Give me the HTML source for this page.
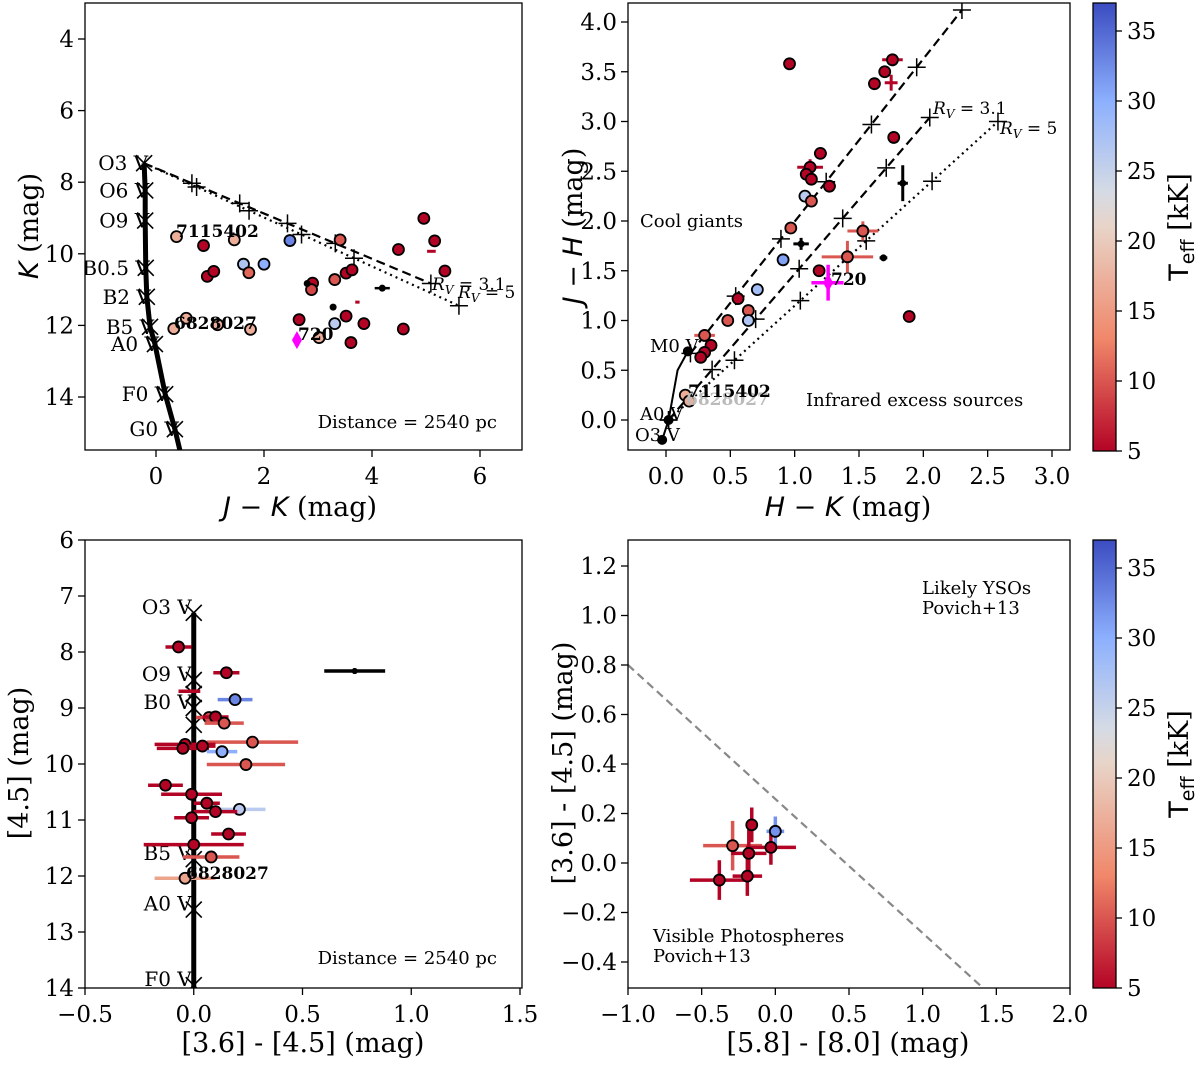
<!DOCTYPE html>
<html><head><meta charset="utf-8">
<style>
html,body{margin:0;padding:0;background:#fff;}
svg{display:block;font-family:"DejaVu Serif","Liberation Serif",serif;}
</style></head>
<body>
<svg id="fig" width="1200" height="1066" viewBox="0 0 1200 1066" xmlns="http://www.w3.org/2000/svg">
<defs>
<linearGradient id="cmap" x1="0" y1="1" x2="0" y2="0">
<stop offset="0" stop-color="#b40426"/><stop offset="0.25" stop-color="#f0876a"/>
<stop offset="0.5" stop-color="#e8d4c8"/><stop offset="0.58" stop-color="#d5dbe5"/>
<stop offset="0.78" stop-color="#8db0fe"/><stop offset="1" stop-color="#3b4cc0"/>
</linearGradient>
</defs>
</svg>
<script>
// ---------- Panel 1: K vs J-K ----------
const p1JK = [0.38,0.88,1.45,2.48,3.41,4.96,5.16,4.49,0.95,1.07,1.62,1.72,2.0,3.52,3.63,5.35,2.90,2.88,3.31,3.52,3.85,4.58,3.31,3.61,2.65,0.33,0.56,1.14,1.75,3.02];
const p1K  = [9.52,9.77,9.61,9.63,9.61,9.01,9.64,9.88,10.63,10.49,10.29,10.53,10.29,10.54,10.45,10.48,10.82,11.0,10.72,11.74,11.95,12.1,11.95,12.48,11.84,12.09,11.8,11.98,12.11,12.34];
const p1T  = [17,5,17,33,10,5,5,5,5,5,27,11,30,5,5,5,5,9,10,5,5,5,26,5,5,17,17,17,17,17];
const p1SmallJK = [2.80,4.19,3.28];
const p1SmallK = [10.83,10.96,11.49];
const p1MSname = ["O3 V","O6 V","O9 V","B0.5 V","B2 V","B5 V","A0 V","F0 V","G0 V"];
const p1MSJK = [-0.22,-0.20,-0.20,-0.19,-0.17,-0.11,-0.02,0.17,0.35];
const p1MSK = [7.47,8.23,9.07,10.39,11.20,12.04,12.52,13.92,14.90];
const p1XTicks = [0,2,4,6];
const p1YTicks = [4,6,8,10,12,14];

// ---------- Panel 2: J-H vs H-K ----------
const p2HK = [0.96,1.76,1.70,1.62,1.77,1.20,1.12,1.09,1.13,1.27,1.08,1.13,0.97,1.53,1.41,0.91,1.19,0.71,0.56,0.64,0.48,0.64,1.89,0.30,0.35,0.30,0.27,0.15,0.18];
const p2JH = [3.58,3.62,3.50,3.38,2.84,2.68,2.54,2.47,2.42,2.35,2.25,2.20,1.93,1.90,1.64,1.61,1.50,1.31,1.22,1.10,1.00,1.00,1.04,0.85,0.75,0.68,0.63,0.25,0.19];
const p2T  = [5,5,5,5,5,5,5,5,5,5,26,10,10,10,10,31,5,28,5,10,10,27,5,10,5,5,5,17,17];
const p2Err = [0,0.08,0.04,0,0.03,0.05,0.1,0,0,0.05,0.05,0,0,0.12,0.2,0,0,0,0,0,0,0,0,0.08,0,0,0,0,0];
const p2BlackHK = [1.05,1.69,1.84];
const p2BlackJH = [1.77,1.63,2.38];
const p2MSname = ["O3 V","A0 V","M0 V"];
const p2MSHK = [-0.03,0.02,0.17];
const p2MSJH = [-0.2,0.0,0.69];
const p2XTicks = [0.0,0.5,1.0,1.5,2.0,2.5,3.0];
const p2YTicks = [0.0,0.5,1.0,1.5,2.0,2.5,3.0,3.5,4.0];

// ---------- Panel 3: [4.5] vs [3.6]-[4.5] ----------
const p3C = [-0.07,0.15,0.19,0.07,0.10,0.14,0.27,-0.04,-0.05,0.04,0.13,0.24,-0.13,-0.01,0.06,0.21,0.10,-0.01,0.16,0.0,0.08,-0.04];
const p3M = [7.91,8.37,8.85,9.17,9.16,9.27,9.61,9.65,9.72,9.68,9.78,10.01,10.38,10.54,10.70,10.81,10.85,10.96,11.25,11.44,11.66,12.04];
const p3T = [5,5,33,9,5,10,10,5,5,5,30,10,5,5,5,26,5,5,5,5,10,16];
const p3Xerr = [0.06,0.06,0.08,0.06,0.06,0.09,0.21,0.14,0.12,0.06,0.07,0.18,0.08,0.14,0.06,0.12,0.1,0.08,0.08,0.23,0.13,0.14];
const p3MSname = ["O3 V","O9 V","","B0 V","","B5 V","A0 V","F0 V"];
const p3MSM = [7.3,8.5,8.75,9.0,9.3,11.7,12.6,13.95];
const p3XTicks = [-0.5,0.0,0.5,1.0,1.5];
const p3YTicks = [6,7,8,9,10,11,12,13,14];

// ---------- Panel 4: [3.6]-[4.5] vs [5.8]-[8.0] ----------
const p4X = [-0.16,0.0,-0.29,-0.03,-0.18,-0.19,-0.38];
const p4Y = [0.154,0.128,0.07,0.063,0.039,-0.053,-0.069];
const p4T = [5,32,10,5,5,5,5];
const p4Xerr = [0.04,0.06,0.2,0.17,0.12,0.1,0.2];
const p4Yerr = [0.07,0.06,0.1,0.07,0.1,0.08,0.08];
const p4XTicks = [-1.0,-0.5,0.0,0.5,1.0,1.5,2.0];
const p4YTicks = [-0.4,-0.2,0.0,0.2,0.4,0.6,0.8,1.0,1.2];
const cbTicks = [5,10,15,20,25,30,35];

const NS="http://www.w3.org/2000/svg";
const svg=document.getElementById('fig');
function mk(tag,attrs,parent){const e=document.createElementNS(NS,tag);for(const k in attrs)e.setAttribute(k,attrs[k]);(parent||svg).appendChild(e);return e;}
function lerp(a,b,t){return a+(b-a)*t;}
const stops=[[0,[180,4,38]],[0.25,[240,135,106]],[0.5,[232,212,200]],[0.58,[213,219,229]],[0.78,[141,176,254]],[1,[59,76,192]]];
function cmap(T){let t=(T-5)/32;t=Math.max(0,Math.min(1,t));for(let i=1;i<stops.length;i++){if(t<=stops[i][0]){const a=stops[i-1],b=stops[i];const u=(t-a[0])/(b[0]-a[0]);return `rgb(${Math.round(lerp(a[1][0],b[1][0],u))},${Math.round(lerp(a[1][1],b[1][1],u))},${Math.round(lerp(a[1][2],b[1][2],u))})`;}}return 'rgb(59,76,192)';}
function scale(d0,d1,r0,r1){return v=>r0+(v-d0)/(d1-d0)*(r1-r0);}
function text(x,y,s,opts,parent){const t=mk('text',Object.assign({x:x,y:y,'font-size':20,fill:'#000'},opts||{}),parent);t.textContent=s;return t;}

function axes(name,L,T,R,B,sx,sy,xt,yt,fmtx,fmty){
  const g=mk('g',{});
  
  
  xt.forEach(v=>{const x=sx(v);const l=mk('line',{x1:x,x2:x,y1:B,y2:B+7,stroke:'#000','stroke-width':1.3},g);
    
    
    const t=text(x,B+34,fmtx(v),{'text-anchor':'middle','font-size':23},g);
    
    });
  yt.forEach(v=>{const y=sy(v);const l=mk('line',{x1:L-7,x2:L,y1:y,y2:y,stroke:'#000','stroke-width':1.3},g);
    
    
    const t=text(L-11,y+8,fmty(v),{'text-anchor':'end','font-size':23},g);
    
    });
  return g;
}
function frame(name,L,T,R,B){const r=mk('rect',{x:L,y:T,width:R-L,height:B-T,fill:'none',stroke:'#000','stroke-width':1.3});
  
  }
function clip(id,L,T,R,B){const c=mk('clipPath',{id:id});mk('rect',{x:L,y:T,width:R-L,height:B-T},c);}
function xmark(x,y,s,g,w){mk('path',{d:`M${x-s},${y-s}L${x+s},${y+s}M${x-s},${y+s}L${x+s},${y-s}`,stroke:'#000','stroke-width':w||1.5,fill:'none'},g);}
function plus(x,y,s,g){mk('path',{d:`M${x-s},${y}L${x+s},${y}M${x},${y-s}L${x},${y+s}`,stroke:'#000','stroke-width':1.5,fill:'none'},g);}
const f1=v=>String(v), f2=v=>v.toFixed(1).replace('-','\u2212');

// ================= PANEL 1 =================
(function(){
const L=85,T=3,R=522,B=450;
const sx=scale(0,6,156,480), sy=scale(4,14,39,397);
clip('c1',L,T,R,B);
const g=mk('g',{'clip-path':'url(#c1)'});


let d='';p1MSJK.forEach((v,i)=>{d+=(i?'L':'M')+sx(v)+','+sy(p1MSK[i]);});d+='L'+sx(0.46)+','+sy(15.6);
const ms=mk('path',{d:d,stroke:'#000','stroke-width':5,fill:'none'},g);


p1MSJK.forEach((v,i)=>xmark(sx(v),sy(p1MSK[i]),8,g,1.6));
const o=[p1MSJK[0],p1MSK[0]];
const e31=[5.09,10.83], e5=[5.61,11.45];
const fr=[0,1/6,2/6,3/6,4/6,1];
const l31=mk('line',{x1:sx(o[0]),y1:sy(o[1]),x2:sx(e31[0]),y2:sy(e31[1]),stroke:'#000','stroke-width':2.2,'stroke-dasharray':'9,5'},g);


const l5=mk('line',{x1:sx(o[0]),y1:sy(o[1]),x2:sx(e5[0]),y2:sy(e5[1]),stroke:'#000','stroke-width':2.2,'stroke-dasharray':'2,4'},g);


fr.slice(1).forEach(f=>{plus(sx(lerp(o[0],e31[0],f)),sy(lerp(o[1],e31[1],f)),9,g);plus(sx(lerp(o[0],e5[0],f)),sy(lerp(o[1],e5[1],f)),9,g);});
const eb1=mk('line',{x1:sx(5.02),x2:sx(5.18),y1:sy(9.93),y2:sy(9.93),stroke:'#b40426','stroke-width':3},g);


const eb2=mk('line',{x1:sx(3.69),x2:sx(3.77),y1:sy(11.35),y2:sy(11.35),stroke:'#b40426','stroke-width':3},g);


const eb3=mk('line',{x1:sx(4.05),x2:sx(4.33),y1:sy(10.96),y2:sy(10.96),stroke:'#000','stroke-width':2.5},g);


p1JK.forEach((v,i)=>{const c=mk('circle',{cx:sx(v),cy:sy(p1K[i]),r:5.5,fill:cmap(p1T[i]),stroke:'#000','stroke-width':1.8},g);
  
  });
p1SmallJK.forEach((v,i)=>{const c=mk('circle',{cx:sx(v),cy:sy(p1SmallK[i]),r:3.5,fill:'#000'},g);
  
  });
const dm=mk('path',{d:`M${sx(2.61)},${sy(12.41)-9}l5,9l-5,9l-5,-9z`,fill:'#ff00ff'},g);


p1MSname.forEach((n,i)=>{const t=text(sx(p1MSJK[i])+4,sy(p1MSK[i])+7,n,{'text-anchor':'end','font-size':20},g);
  
  });
const a=text(176,237,'7115402',{'font-size':17,'font-weight':'bold'},g);
const b=text(174,329,'6828027',{'font-size':17,'font-weight':'bold'},g);
const c=text(298,340,'720',{'font-size':17,'font-weight':'bold'},g);
const r1=text(432,290,'',{'font-size':17},g);r1.innerHTML='<tspan font-style="italic">R</tspan><tspan font-size="12" dy="4" font-style="italic">V</tspan><tspan dy="-4"> = 3.1</tspan>';
const r2=text(458,298,'',{'font-size':17},g);r2.innerHTML='<tspan font-style="italic">R</tspan><tspan font-size="12" dy="4" font-style="italic">V</tspan><tspan dy="-4"> = 5</tspan>';
const dist=text(497,428,'Distance = 2540 pc',{'font-size':18,'text-anchor':'end'},g);
frame('panel-jk-k-frame',L,T,R,B);
axes('panel-jk-k-axes',L,T,R,B,sx,sy,p1XTicks,p1YTicks,f1,f1);
const xl=text(300,516,'',{'font-size':27,'text-anchor':'middle'});xl.innerHTML='<tspan font-style="italic" font-family="DejaVu Sans">J</tspan> \u2212 <tspan font-style="italic" font-family="DejaVu Sans">K</tspan> (mag)';

const yl=text(0,0,'',{'font-size':27,'text-anchor':'middle',transform:'translate(38,226) rotate(-90)'});yl.innerHTML='<tspan font-style="italic" font-family="DejaVu Sans">K</tspan> (mag)';

})();

// ================= PANEL 2 =================
(function(){
const L=628,T=3,R=1070,B=450;
const sx=scale(0,3,666,1052), sy=scale(0,4,420,22);
clip('c2',L,T,R,B);
const g=mk('g',{'clip-path':'url(#c2)'});


const cp=mk('path',{d:`M${sx(p2MSHK[0])},${sy(p2MSJH[0])}L${sx(p2MSHK[1])},${sy(p2MSJH[1])}L${sx(0.09)},${sy(0.5)}L${sx(p2MSHK[2])},${sy(p2MSJH[2])}`,stroke:'#000','stroke-width':2,fill:'none'},g);


p2MSHK.forEach((v,i)=>mk('circle',{cx:sx(v),cy:sy(p2MSJH[i]),r:5,fill:'#000'},g));
const vecs=[[[0.19,0.67],[2.30,4.12],'9,5',6],[[0.02,0.0],[2.05,3.04],'9,5',6],[[0.02,0.0],[2.58,3.0],'2,4',5]];
vecs.forEach((vv,k)=>{const ln=mk('line',{x1:sx(vv[0][0]),y1:sy(vv[0][1]),x2:sx(vv[1][0]),y2:sy(vv[1][1]),stroke:'#000','stroke-width':2.2,'stroke-dasharray':vv[2]},g);
  
  
  for(let j=0;j<=vv[3];j++){const f=j/vv[3];plus(sx(lerp(vv[0][0],vv[1][0],f)),sy(lerp(vv[0][1],vv[1][1],f)),9,g);}});
mk('path',{d:`M${sx(1.70)},${sy(3.39)}h${sx(1.80)-sx(1.70)}M${sx(1.75)},${sy(3.31)}V${sy(3.47)}`,stroke:'#b40426','stroke-width':3},g);
p2HK.forEach((v,i)=>{const col=cmap(p2T[i]);if(p2Err[i]>0){mk('path',{d:`M${sx(v-p2Err[i])},${sy(p2JH[i])}H${sx(v+p2Err[i])}M${sx(v)},${sy(p2JH[i]-p2Err[i]*0.8)}V${sy(p2JH[i]+p2Err[i]*0.8)}`,stroke:col,'stroke-width':3},g);}
  const c=mk('circle',{cx:sx(v),cy:sy(p2JH[i]),r:5.5,fill:col,stroke:'#000','stroke-width':1.8},g);
  
  });
p2BlackHK.forEach((v,i)=>{const e=[0.06,0.03,0.04][i],ey=[0.06,0,0.18][i];
  mk('path',{d:`M${sx(v-e)},${sy(p2BlackJH[i])}H${sx(v+e)}M${sx(v)},${sy(p2BlackJH[i]-ey)}V${sy(p2BlackJH[i]+ey)}`,stroke:'#000','stroke-width':3},g);
  const c=mk('circle',{cx:sx(v),cy:sy(p2BlackJH[i]),r:3.5,fill:'#000'},g);
  
  });
mk('path',{d:`M${sx(1.13)},${sy(1.38)}H${sx(1.38)}M${sx(1.26)},${sy(1.2)}V${sy(1.56)}`,stroke:'#ff00ff','stroke-width':3.5},g);
const dm=mk('path',{d:`M${sx(1.26)},${sy(1.38)-9}l5,9l-5,9l-5,-9z`,fill:'#ff00ff'},g);


const msLabX=[635,640,650], msLabY=[441,420,352];
p2MSname.forEach((n,i)=>{const t=text(msLabX[i],msLabY[i],n,{'font-size':18},g);
  
  });
const t6=text(686,405,'6828027',{'font-size':17,'font-weight':'bold',fill:'#bbb'},g);
const t7=text(688,397,'7115402',{'font-size':17,'font-weight':'bold'},g);
const t72=text(831,285,'720',{'font-size':17,'font-weight':'bold'},g);
const cg=text(640,227,'Cool giants',{'font-size':18},g);
const ir=text(806,406,'Infrared excess sources',{'font-size':18},g);
const r1=text(933,114,'',{'font-size':17},g);r1.innerHTML='<tspan font-style="italic">R</tspan><tspan font-size="12" dy="4" font-style="italic">V</tspan><tspan dy="-4"> = 3.1</tspan>';
const r2=text(1000,134,'',{'font-size':17},g);r2.innerHTML='<tspan font-style="italic">R</tspan><tspan font-size="12" dy="4" font-style="italic">V</tspan><tspan dy="-4"> = 5</tspan>';
frame('panel-hk-jh-frame',L,T,R,B);
axes('panel-hk-jh-axes',L,T,R,B,sx,sy,p2XTicks,p2YTicks,f2,f2);
const xl=text(848,516,'',{'font-size':27,'text-anchor':'middle'});xl.innerHTML='<tspan font-style="italic" font-family="DejaVu Sans">H</tspan> \u2212 <tspan font-style="italic" font-family="DejaVu Sans">K</tspan> (mag)';

const yl=text(0,0,'',{'font-size':27,'text-anchor':'middle',transform:'translate(582,226) rotate(-90)'});yl.innerHTML='<tspan font-style="italic" font-family="DejaVu Sans">J</tspan> \u2212 <tspan font-style="italic" font-family="DejaVu Sans">H</tspan> (mag)';

})();

// ================= PANEL 3 =================
(function(){
const L=85,T=540,R=522,B=988;
const sx=scale(-0.5,1.5,85,520), sy=scale(6,14,540,988);
clip('c3',L,T,R,B);
const g=mk('g',{'clip-path':'url(#c3)'});


const ms=mk('line',{x1:sx(0),x2:sx(0),y1:sy(7.3),y2:sy(14.1),stroke:'#000','stroke-width':5},g);


p3MSM.forEach((m,i)=>{xmark(sx(0),sy(m),8,g,1.6);if(p3MSname[i]){const t=text(sx(0)-2,sy(m)+1,p3MSname[i],{'text-anchor':'end','font-size':20},g);
  
  }});
mk('line',{x1:sx(-0.07),x2:sx(0.03),y1:sy(8.70),y2:sy(8.70),stroke:'#b40426','stroke-width':3.5},g);
mk('path',{d:`M${sx(0.60)},${sy(8.34)}H${sx(0.88)}M${sx(0.74)},${sy(8.29)}V${sy(8.39)}`,stroke:'#000','stroke-width':3.5},g);
const bk=mk('circle',{cx:sx(0.74),cy:sy(8.34),r:3,fill:'#000'},g);


p3C.forEach((v,i)=>{const col=cmap(p3T[i]);mk('line',{x1:sx(v-p3Xerr[i]),x2:sx(v+p3Xerr[i]),y1:sy(p3M[i]),y2:sy(p3M[i]),stroke:col,'stroke-width':3.5},g);
  const c=mk('circle',{cx:sx(v),cy:sy(p3M[i]),r:5.5,fill:col,stroke:'#000','stroke-width':1.8},g);
  
  });
const lb=text(186,879,'6828027',{'font-size':17,'font-weight':'bold'},g);
const dist=text(497,964,'Distance = 2540 pc',{'font-size':18,'text-anchor':'end'},g);
frame('panel-irac-cmd-frame',L,T,R,B);
axes('panel-irac-cmd-axes',L,T,R,B,sx,sy,p3XTicks,p3YTicks,f2,f1);
const xl=text(303,1052,'[3.6] - [4.5] (mag)',{'font-size':27,'text-anchor':'middle'});

const yl=text(0,0,'[4.5] (mag)',{'font-size':27,'text-anchor':'middle',transform:'translate(28,763) rotate(-90)'});

})();

// ================= PANEL 4 =================
(function(){
const L=628,T=540,R=1070,B=988;
const sx=scale(-1,2,628,1070), sy=scale(0,1.2,863,566);
clip('c4',L,T,R,B);
const g=mk('g',{'clip-path':'url(#c4)'});


const dl=mk('line',{x1:sx(-1),y1:sy(0.8),x2:sx(1.4),y2:sy(-0.5),stroke:'#888','stroke-width':2.2,'stroke-dasharray':'8,5'},g);


p4X.forEach((v,i)=>{const col=cmap(p4T[i]);
  mk('path',{d:`M${sx(v-p4Xerr[i])},${sy(p4Y[i])}H${sx(v+p4Xerr[i])}M${sx(v)},${sy(p4Y[i]-p4Yerr[i])}V${sy(p4Y[i]+p4Yerr[i])}`,stroke:col,'stroke-width':3.5},g);});
p4X.forEach((v,i)=>{const c=mk('circle',{cx:sx(v),cy:sy(p4Y[i]),r:5.5,fill:cmap(p4T[i]),stroke:'#000','stroke-width':1.8},g);
  
  });
const a=text(922,594,'Likely YSOs',{'font-size':18},g);
const a2=text(922,614,'Povich+13',{'font-size':18},g);
const b=text(653,942,'Visible Photospheres',{'font-size':18},g);
const b2=text(653,962,'Povich+13',{'font-size':18},g);
frame('panel-irac-ccd-frame',L,T,R,B);
axes('panel-irac-ccd-axes',L,T,R,B,sx,sy,p4XTicks,p4YTicks,f2,f2);
const xl=text(848,1052,'[5.8] - [8.0] (mag)',{'font-size':27,'text-anchor':'middle'});

const yl=text(0,0,'[3.6] - [4.5] (mag)',{'font-size':27,'text-anchor':'middle',transform:'translate(572,763) rotate(-90)'});

})();

// ================= COLORBARS =================
[[3,451],[540,988]].forEach(([T,B],k)=>{
  const sc=scale(5,37,B,T);
  const g=mk('g',{});
  
  
  mk('rect',{x:1093,y:T,width:23,height:B-T,fill:'url(#cmap)',stroke:'#000','stroke-width':1.3},g);
  cbTicks.forEach(v=>{const y=sc(v);mk('line',{x1:1116,x2:1122,y1:y,y2:y,stroke:'#000','stroke-width':1.3},g);
    const t=text(1127,y+8,String(v),{'font-size':23},g);
    
    });
  const lb=text(0,0,'',{'font-size':27,'text-anchor':'middle',transform:`translate(1188,${(T+B)/2}) rotate(-90)`},g);
  lb.innerHTML='<tspan font-family="DejaVu Sans">T</tspan><tspan font-family="DejaVu Sans" font-size="19" dy="6">eff</tspan><tspan dy="-6"> [kK]</tspan>';
  
  
});
</script>
</body></html>
